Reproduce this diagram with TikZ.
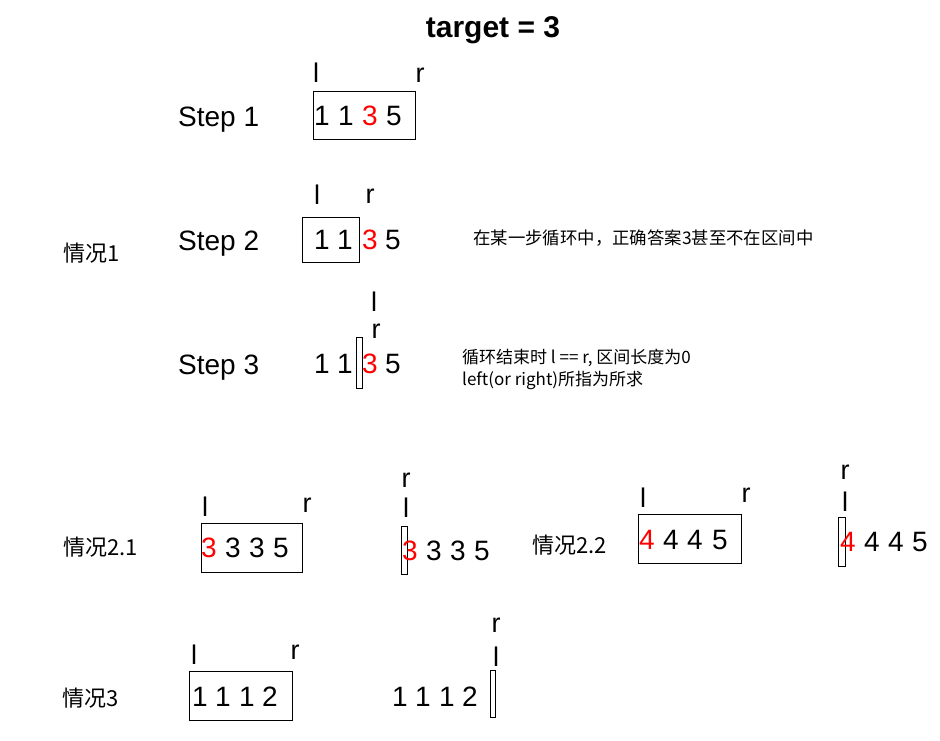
\documentclass[tikz,border=0pt]{standalone}
\usepackage{fontspec}
\setmainfont{Liberation Sans}
\newfontfamily\cjk{Noto Sans CJK SC}
\begin{document}
\begin{tikzpicture}[x=1pt,y=-1pt,
 dig/.style={inner sep=0pt, font=\fontsize{28}{28}\selectfont},
 ptr/.style={inner sep=0pt, font=\fontsize{27}{27}\selectfont},
 lab/.style={inner sep=0pt, anchor=base west, font=\fontsize{28}{28}\selectfont},
 casel/.style={inner sep=0pt, anchor=west, font=\cjk\fontsize{22}{22}\selectfont},
 note/.style={inner sep=0pt, anchor=west, font=\cjk\fontsize{17}{17}\selectfont},
 box/.style={draw=black, line width=1pt, inner sep=0pt}]
\useasboundingbox[fill=white] (0,0) rectangle (940,741);

\node[inner sep=0pt, anchor=base, font=\bfseries\fontsize{30}{30}\selectfont] (title) at (493,38) {target = 3};

% Step 1
\node[lab] (st1) at (178,127) {Step 1};
\node[box, minimum width=102pt, minimum height=48pt] (b1) at (364,116) {};
\foreach \x/\d/\c [count=\i] in {322/1/black,346/1/black,370/3/red,394/5/black}
  \node[dig,text=\c] (s1d\i) at (\x,116) {\d};
\node[ptr] (s1l) at (316,73) {l};
\node[ptr] (s1r) at (420,75) {r};

% Step 2
\node[lab] (st2) at (178,250) {Step 2};
\node[box, minimum width=57pt, minimum height=45pt] (b2) at (330.5,239.5) {};
\foreach \x/\d/\c [count=\i] in {322/1/black,345/1/black,370/3/red,393/5/black}
  \node[dig,text=\c] (s2d\i) at (\x,240) {\d};
\node[ptr] (s2l) at (317,195) {l};
\node[ptr] (s2r) at (370,196) {r};
\node[note, font=\cjk\fontsize{17.4}{17.4}\selectfont] (n1) at (473,238) {在某一步循环中，正确答案3甚至不在区间中};

% Step 3
\node[lab] (st3) at (178,374) {Step 3};
\node[box, minimum width=6pt, minimum height=51pt] (b3) at (359,362.5) {};
\foreach \x/\d/\c [count=\i] in {322/1/black,345/1/black,370/3/red,393/5/black}
  \node[dig,text=\c] (s3d\i) at (\x,364) {\d};
\node[ptr] (s3l) at (374,302) {l};
\node[ptr] (s3r) at (376,331) {r};
\node[note] (n2) at (462,358) {循环结束时 l == r, 区间长度为0};
\node[note] (n3) at (462,380) {left(or right)所指为所求};

\node[casel] (c1) at (63,253) {情况1};

% Case 2.1
\node[casel] (c21) at (63,547) {情况2.1};
\node[box, minimum width=101pt, minimum height=49pt] (b4) at (251.5,547.5) {};
\foreach \x/\d/\c [count=\i] in {209/3/red,233/3/black,257/3/black,281/5/black}
  \node[dig,text=\c] (a1d\i) at (\x,548) {\d};
\node[ptr] (a1l) at (205,507) {l};
\node[ptr] (a1r) at (307,505) {r};
\node[box, minimum width=6pt, minimum height=48pt] (b5) at (404.7,550) {};
\foreach \x/\d/\c [count=\i] in {410/3/red,434/3/black,458/3/black,482/5/black}
  \node[dig,text=\c] (a2d\i) at (\x,551) {\d};
\node[ptr] (a2l) at (406,508) {l};
\node[ptr] (a2r) at (406,480) {r};

% Case 2.2
\node[casel] (c22) at (532,545) {情况2.2};
\node[box, minimum width=103pt, minimum height=49pt] (b6) at (689.5,538.5) {};
\foreach \x/\d/\c [count=\i] in {647/4/red,671/4/black,695/4/black,720/5/black}
  \node[dig,text=\c] (b1d\i) at (\x,540) {\d};
\node[ptr] (b1l) at (643,498) {l};
\node[ptr] (b1r) at (746,495) {r};
\node[box, minimum width=6.7pt, minimum height=49pt] (b7) at (842.3,541.5) {};
\foreach \x/\d/\c [count=\i] in {848/4/red,872/4/black,896/4/black,920/5/black}
  \node[dig,text=\c] (b2d\i) at (\x,542) {\d};
\node[ptr] (b2l) at (845,502) {l};
\node[ptr] (b2r) at (845,472) {r};

% Case 3
\node[casel] (c3) at (62,698) {情况3};
\node[box, minimum width=103pt, minimum height=49pt] (b8) at (240.5,695.5) {};
\foreach \x/\d/\c [count=\i] in {200/1/black,223/1/black,247/1/black,270/2/black}
  \node[dig,text=\c] (e1d\i) at (\x,697) {\d};
\node[ptr] (e1l) at (194,655) {l};
\node[ptr] (e1r) at (295,652) {r};
\foreach \x/\d/\c [count=\i] in {400/1/black,423/1/black,447/1/black,470/2/black}
  \node[dig,text=\c] (e2d\i) at (\x,697) {\d};
\node[box, minimum width=5.3pt, minimum height=47pt] (b9) at (493.3,693.5) {};
\node[ptr] (e2l) at (496,657) {l};
\node[ptr] (e2r) at (496,625) {r};
\end{tikzpicture}
\end{document}
